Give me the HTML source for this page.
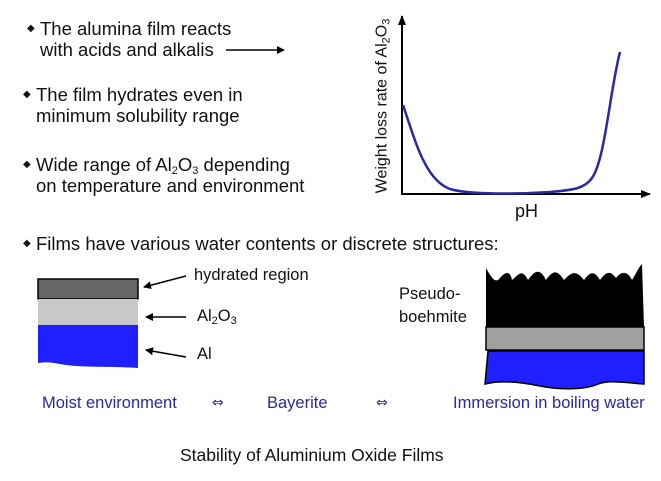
<!DOCTYPE html>
<html><head><style>
body{margin:0;background:#fff;width:661px;height:481px;overflow:hidden;font-family:"Liberation Sans",sans-serif;}
.t{position:absolute;font-size:18.5px;color:#111;white-space:nowrap;line-height:21px}
.b{font-size:10px;position:absolute;left:-13px;top:0}
.bl{color:#2a2a9a}
sub{font-size:11px;vertical-align:-3px;line-height:0}
.ar{font-family:"DejaVu Sans",sans-serif;font-size:14px}
</style></head><body>
<div class="t" style="left:40px;top:18px"><span class="b">◆</span>The alumina film reacts<br>with acids and alkalis</div>
<div class="t" style="left:36px;top:84px"><span class="b">◆</span>The film hydrates even in<br>minimum solubility range</div>
<div class="t" style="left:36px;top:154px"><span class="b">◆</span>Wide range of Al<sub>2</sub>O<sub>3</sub> depending<br>on temperature and environment</div>
<div class="t" style="left:36px;top:233px"><span class="b">◆</span>Films have various water contents or discrete structures:</div>
<div class="t" style="left:194px;top:265px;font-size:16.5px">hydrated region</div>
<div class="t" style="left:197px;top:306px;font-size:16.5px">Al<sub>2</sub>O<sub>3</sub></div>
<div class="t" style="left:197px;top:344px;font-size:16.5px">Al</div>
<div class="t" style="left:399px;top:283px;font-size:16.5px;line-height:23px">Pseudo-<br>boehmite</div>
<div class="t bl" style="left:42px;top:393px;font-size:16.5px">Moist environment</div>
<div class="t bl ar" style="left:212px;top:393px">⇔</div>
<div class="t bl" style="left:267px;top:393px;font-size:16.5px">Bayerite</div>
<div class="t bl ar" style="left:376px;top:393px">⇔</div>
<div class="t bl" style="left:453px;top:393px;font-size:16.5px">Immersion in boiling water</div>
<div class="t" style="left:180px;top:445px;font-size:17.5px">Stability of Aluminium Oxide Films</div>
<div class="t" style="left:515px;top:201px;font-size:18px">pH</div>
<div class="t" style="left:382px;top:106px;font-size:16px;transform:translate(-50%,-50%) rotate(-90deg);transform-origin:center">Weight loss rate of Al<sub>2</sub>O<sub>3</sub></div>
<svg width="661" height="481" style="position:absolute;left:0;top:0">
<defs><marker id="a" markerWidth="8" markerHeight="8" refX="7" refY="4" orient="auto" markerUnits="userSpaceOnUse"><path d="M0,0L8,4L0,8z" fill="#000"/></marker>
<marker id="s" markerWidth="10" markerHeight="8" refX="9" refY="4" orient="auto" markerUnits="userSpaceOnUse"><path d="M0,0L10,4L0,8z" fill="#000"/></marker></defs>
<line x1="226" y1="50" x2="284" y2="50" stroke="#000" stroke-width="1.5" marker-end="url(#a)"/>
<line x1="402" y1="195" x2="402" y2="16" stroke="#000" stroke-width="2" marker-end="url(#s)"/>
<line x1="401" y1="194" x2="650" y2="194" stroke="#000" stroke-width="2" marker-end="url(#s)"/>
<path d="M403,105 C415,140 425,180 450,189 C470,195 520,194 550,192 C575,190 585,188 592,178 C605,160 610,90 620,52" fill="none" stroke="#2a2aa0" stroke-width="2.5"/>
<rect x="38" y="279" width="100" height="20" fill="#666" stroke="#000" stroke-width="1.5"/>
<rect x="38" y="299" width="100" height="26" fill="#c8c8c8"/>
<path d="M38,325H138V368C110,366 80,368 60,364 50,362 45,362 38,363Z" fill="#1f1fff"/>
<line x1="186" y1="276" x2="144" y2="287" stroke="#000" stroke-width="1.5" marker-end="url(#a)"/>
<line x1="186" y1="317" x2="146" y2="317" stroke="#000" stroke-width="1.5" marker-end="url(#a)"/>
<line x1="186" y1="357" x2="146" y2="350" stroke="#000" stroke-width="1.5" marker-end="url(#a)"/>
<path d="M486,268 C490,275 495,285 500,278 C505,272 510,270 512,280 C518,275 522,268 528,280 C535,270 540,268 546,280 C552,272 556,268 564,280 C570,274 575,268 584,280 C590,272 594,270 600,280 C606,272 610,270 616,278 C622,270 628,272 632,280 C636,274 638,268 642,264 L644,327 H486Z" fill="#000"/>
<rect x="486" y="327" width="158" height="23" fill="#a0a0a0" stroke="#000" stroke-width="1.5"/>
<path d="M488,351H644V384C620,382 608,380 598,384 585,390 560,390 540,386 520,382 500,380 485,384Z" fill="#1f1fff" stroke="#000" stroke-width="1.5"/>
</svg>
</body></html>
